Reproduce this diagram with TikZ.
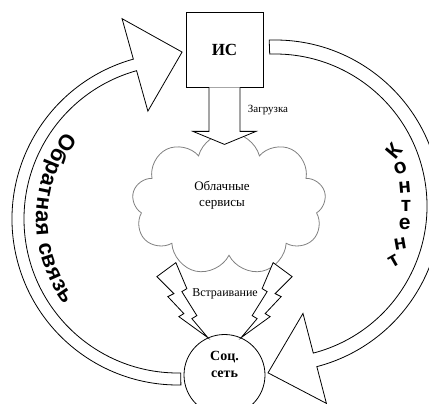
\documentclass[tikz,border=0pt]{standalone}
\usepackage{fontspec}
\setmainfont{Liberation Serif}
\setsansfont{Liberation Sans}
\usetikzlibrary{shapes.symbols,decorations.text,calc}

\tikzset{
  bolt/.pic={\draw[fill=white] (0,0) -- (-29,21) -- (-24,24) -- (-40,41) -- (-34,44) -- (-51,61)
    -- (-32,75) -- (-21,49) -- (-26,46) -- (-11,22) -- (-16,19) -- cycle;},
  bigarrow/.style={draw,fill=white},
  arclabel/.style={font=\sffamily\bfseries\fontsize{21}{21}\selectfont}
}

\begin{document}
\begin{tikzpicture}[x=1pt,y=1pt,line width=0.8pt]
\useasboundingbox (0,0) rectangle (429,-404);
\clip (0,0) rectangle (429,-404);

\node[draw,minimum width=77pt,minimum height=75pt,font=\fontsize{17}{17}\selectfont\bfseries] (is) at (224.5,-49.5) {ИС};
\node[cloud,draw=gray,cloud puffs=9,aspect=1.4,minimum width=194pt,minimum height=143pt,
  label={[align=center,font=\fontsize{13}{16}\selectfont,xshift=-7pt,yshift=9pt]center:Облачные\\сервисы}] (cl) at (229,-204) {};
\node[circle,draw,minimum size=81pt,
  label={[align=center,font=\fontsize{14}{17}\selectfont\bfseries,yshift=11pt]center:Соц.\\сеть}] (soc) at (224.5,-375) {};

\draw[fill=white] ([xshift=-15.5pt]is.south) -- ++(0,-44) -- ++(-16,0) -- ([yshift=-57pt]is.south)
  -- ++(31.5,13) -- ++(-16,0) -- ([xshift=15.5pt]is.south);
\node[font=\fontsize{11}{11}\selectfont] (zag) at (268,-110) {Загрузка};

\pic at (soc.114) {bolt};
\pic[xscale=-1] at (soc.66) {bolt};
\node[font=\fontsize{12}{12}\selectfont] (vstr) at (225,-294) {Встраивание};

\coordinate (fb) at (178,-219);
\coordinate (kt) at (275,-206);
\draw[bigarrow] ($(fb)+(105.6:166)$) arc[start angle=105.6,end angle=271,radius=166]
  -- ($(fb)+(271:154)$) arc[start angle=271,end angle=105.6,radius=154]
  -- ($(fb)+(105.6:112)$) -- ($(fb)+(88.6:167)$) -- ($(fb)+(105.6:208)$) -- cycle;
\draw[bigarrow] ($(kt)+(92:166)$) arc[start angle=92,end angle=-75.4,radius=166]
  -- ($(kt)+(-75.4:204)$) -- ($(kt)+(-92.4:167)$) -- ($(kt)+(-75.4:111)$)
  -- ($(kt)+(-75.4:152)$) arc[start angle=-75.4,end angle=92,radius=152] -- cycle;

\path[decorate,decoration={text along path,text={|\sffamily\bfseries\fontsize{22}{22}\selectfont|Обратная связь},
  text align={fit to path}}] ($(fb)+(142:142)$) arc[start angle=142,end angle=217,radius=142];
\foreach \ch/\a/\r [count=\i] in {К/25/50,о/17/20,н/8/5,т/0/0,е/-8/0,н/-17/10,т/-25/30}
  \node[arclabel,rotate=\r,inner sep=0pt] (kont\i) at ($(kt)+(\a:131)$) {\ch};
\end{tikzpicture}
\end{document}
